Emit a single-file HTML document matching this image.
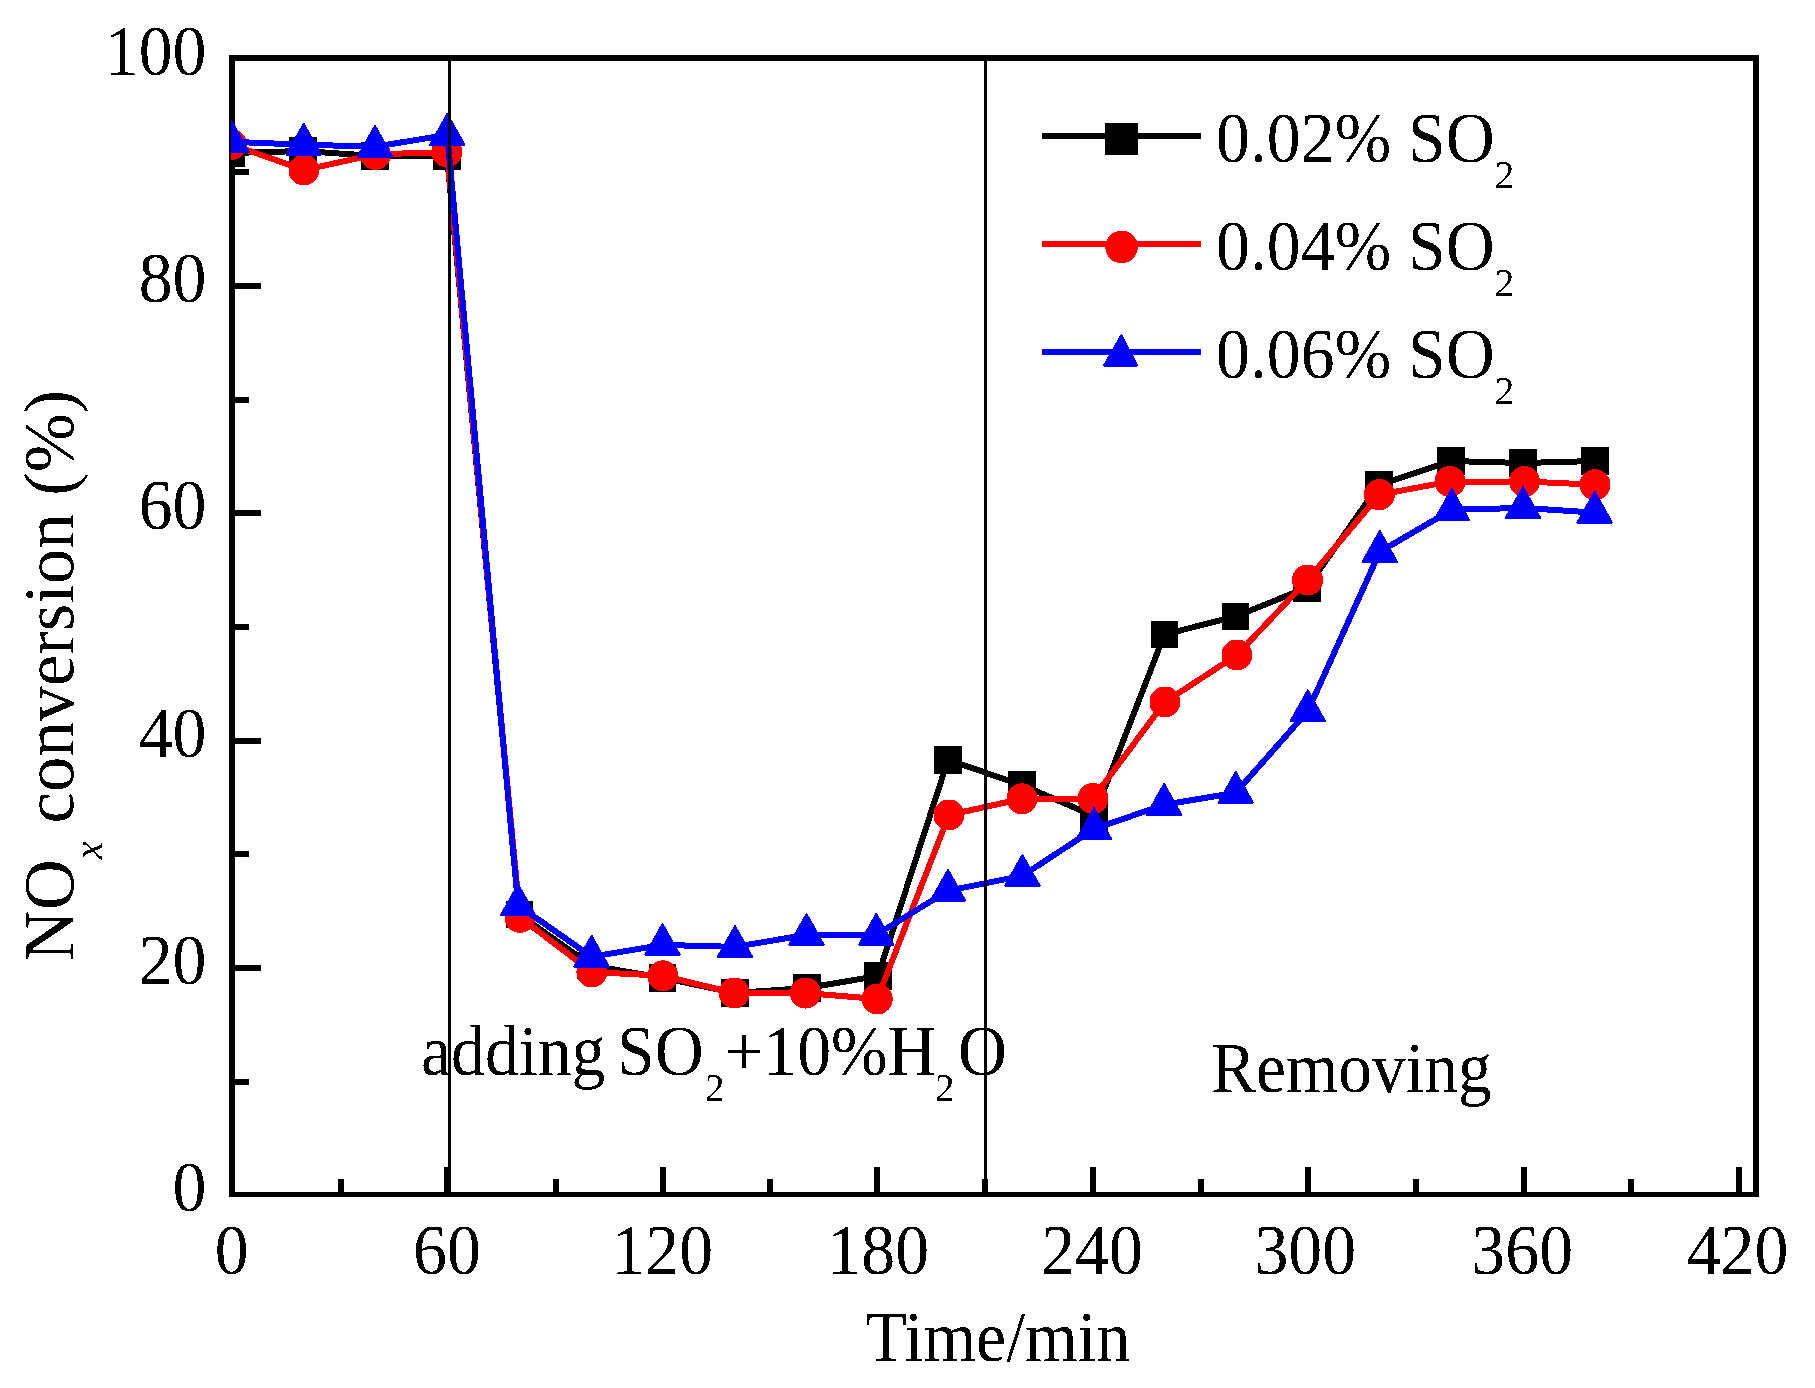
<!DOCTYPE html>
<html><head><meta charset="utf-8"><title>NOx conversion</title>
<style>html,body{margin:0;padding:0;background:#fff;overflow:hidden}svg{display:block}</style>
</head><body>
<svg width="1815" height="1388" viewBox="0 0 1815 1388" shape-rendering="crispEdges">
<defs><clipPath id="plot"><rect x="231" y="58" width="1525" height="1136"/></clipPath>
<filter id="crisp" x="0" y="0" width="1815" height="1388" filterUnits="userSpaceOnUse"><feComponentTransfer><feFuncA type="discrete" tableValues="0 1"/></feComponentTransfer></filter></defs>
<rect width="1815" height="1388" fill="#fff"/>
<g fill="#000">
<rect x="229" y="55" width="6" height="1142"/>
<rect x="229" y="55" width="1530" height="6"/>
<rect x="1753" y="55" width="6" height="1142"/>
<rect x="229" y="1192" width="1530" height="5"/>
<rect x="338.0" y="1179" width="6" height="14"/>
<rect x="444.0" y="1167" width="6" height="26"/>
<rect x="553.0" y="1179" width="6" height="14"/>
<rect x="660.0" y="1167" width="6" height="26"/>
<rect x="767.0" y="1179" width="6" height="14"/>
<rect x="874.0" y="1167" width="6" height="26"/>
<rect x="982.3" y="1179" width="6" height="14"/>
<rect x="1090.0" y="1167" width="6" height="26"/>
<rect x="1197.7" y="1179" width="6" height="14"/>
<rect x="1305.3" y="1167" width="6" height="26"/>
<rect x="1413.0" y="1179" width="6" height="14"/>
<rect x="1520.7" y="1167" width="6" height="26"/>
<rect x="1628.3" y="1179" width="6" height="14"/>
<rect x="1736.0" y="1167" width="6" height="26"/>
<rect x="234" y="1078.7" width="15" height="6"/>
<rect x="234" y="965.0" width="27" height="6"/>
<rect x="234" y="851.3" width="15" height="6"/>
<rect x="234" y="737.6" width="27" height="6"/>
<rect x="234" y="624.0" width="15" height="6"/>
<rect x="234" y="510.3" width="27" height="6"/>
<rect x="234" y="396.6" width="15" height="6"/>
<rect x="234" y="283.0" width="27" height="6"/>
<rect x="234" y="169.3" width="15" height="6"/>
</g>
<g clip-path="url(#plot)" shape-rendering="crispEdges">
<polyline points="231.5,153.0 303.0,151.0 375.0,156.0 447.0,156.0 519.5,914.5 591.0,965.5 662.5,977.8 735.0,993.0 807.0,988.0 878.0,976.0 948.0,760.0 1022.0,785.0 1094.0,816.0 1164.5,634.5 1235.5,616.4 1307.0,587.7 1379.0,485.0 1451.0,461.0 1523.0,463.0 1595.0,461.0" fill="none" stroke="#000" stroke-width="6" stroke-linejoin="round"/>
<g fill="#000"><rect x="217.8" y="139.2" width="27.5" height="27.5"/><rect x="289.2" y="137.2" width="27.5" height="27.5"/><rect x="361.2" y="142.2" width="27.5" height="27.5"/><rect x="433.2" y="142.2" width="27.5" height="27.5"/><rect x="505.8" y="900.8" width="27.5" height="27.5"/><rect x="577.2" y="951.8" width="27.5" height="27.5"/><rect x="648.8" y="964.0" width="27.5" height="27.5"/><rect x="721.2" y="979.2" width="27.5" height="27.5"/><rect x="793.2" y="974.2" width="27.5" height="27.5"/><rect x="864.2" y="962.2" width="27.5" height="27.5"/><rect x="934.2" y="746.2" width="27.5" height="27.5"/><rect x="1008.2" y="771.2" width="27.5" height="27.5"/><rect x="1080.2" y="802.2" width="27.5" height="27.5"/><rect x="1150.8" y="620.8" width="27.5" height="27.5"/><rect x="1221.8" y="602.6" width="27.5" height="27.5"/><rect x="1293.2" y="574.0" width="27.5" height="27.5"/><rect x="1365.2" y="471.2" width="27.5" height="27.5"/><rect x="1437.2" y="447.2" width="27.5" height="27.5"/><rect x="1509.2" y="449.2" width="27.5" height="27.5"/><rect x="1581.2" y="447.2" width="27.5" height="27.5"/></g>
<polyline points="231.5,144.5 304.0,170.0 375.4,154.4 447.0,152.0 520.0,917.4 591.9,972.0 662.9,975.8 734.2,993.0 805.5,993.0 877.2,999.0 949.0,815.0 1022.0,798.8 1093.0,798.5 1165.0,702.0 1237.0,655.0 1307.5,580.0 1379.4,494.7 1450.0,481.5 1524.5,481.5 1595.0,484.7" fill="none" stroke="#f00" stroke-width="6" stroke-linejoin="round"/>
<g fill="#f00"><circle cx="231.5" cy="144.5" r="15.5"/><circle cx="304.0" cy="170.0" r="15.5"/><circle cx="375.4" cy="154.4" r="15.5"/><circle cx="447.0" cy="152.0" r="15.5"/><circle cx="520.0" cy="917.4" r="15.5"/><circle cx="591.9" cy="972.0" r="15.5"/><circle cx="662.9" cy="975.8" r="15.5"/><circle cx="734.2" cy="993.0" r="15.5"/><circle cx="805.5" cy="993.0" r="15.5"/><circle cx="877.2" cy="999.0" r="15.5"/><circle cx="949.0" cy="815.0" r="15.5"/><circle cx="1022.0" cy="798.8" r="15.5"/><circle cx="1093.0" cy="798.5" r="15.5"/><circle cx="1165.0" cy="702.0" r="15.5"/><circle cx="1237.0" cy="655.0" r="15.5"/><circle cx="1307.5" cy="580.0" r="15.5"/><circle cx="1379.4" cy="494.7" r="15.5"/><circle cx="1450.0" cy="481.5" r="15.5"/><circle cx="1524.5" cy="481.5" r="15.5"/><circle cx="1595.0" cy="484.7" r="15.5"/></g>
<polyline points="231.5,141.8 303.7,144.7 375.0,146.7 447.3,134.9 518.1,905.3 591.6,956.7 662.5,944.9 735.0,946.9 806.5,934.8 876.3,934.8 948.0,890.7 1022.4,875.8 1094.0,828.9 1164.1,804.8 1235.7,792.8 1307.8,711.2 1379.8,551.8 1451.8,509.8 1523.0,507.9 1594.7,512.6" fill="none" stroke="#00f" stroke-width="6" stroke-linejoin="round"/>
<g fill="#00f" stroke="#00f" stroke-width="2" stroke-linejoin="round"><polygon points="231.5,121.0 214.3,151.7 248.7,151.7"/><polygon points="303.7,123.9 286.5,154.6 320.9,154.6"/><polygon points="375.0,125.9 357.8,156.6 392.2,156.6"/><polygon points="447.3,114.1 430.1,144.8 464.5,144.8"/><polygon points="518.1,884.5 500.9,915.2 535.3,915.2"/><polygon points="591.6,935.9 574.4,966.6 608.8,966.6"/><polygon points="662.5,924.1 645.3,954.8 679.7,954.8"/><polygon points="735.0,926.1 717.8,956.8 752.2,956.8"/><polygon points="806.5,914.0 789.3,944.7 823.7,944.7"/><polygon points="876.3,914.0 859.1,944.7 893.5,944.7"/><polygon points="948.0,869.9 930.8,900.6 965.2,900.6"/><polygon points="1022.4,855.0 1005.2,885.7 1039.6,885.7"/><polygon points="1094.0,808.1 1076.8,838.8 1111.2,838.8"/><polygon points="1164.1,784.0 1146.9,814.7 1181.3,814.7"/><polygon points="1235.7,772.0 1218.5,802.7 1252.9,802.7"/><polygon points="1307.8,690.4 1290.6,721.1 1325.0,721.1"/><polygon points="1379.8,531.0 1362.6,561.7 1397.0,561.7"/><polygon points="1451.8,489.0 1434.6,519.7 1469.0,519.7"/><polygon points="1523.0,487.1 1505.8,517.8 1540.2,517.8"/><polygon points="1594.7,491.8 1577.5,522.5 1611.9,522.5"/></g>
</g>
<rect x="448" y="58" width="3" height="1136" fill="#000"/>
<rect x="984" y="58" width="3" height="1136" fill="#000"/>
<rect x="1042" y="133" width="159" height="6" fill="#000"/>
<rect x="1105" y="123" width="33" height="32" fill="#000"/>
<rect x="1042" y="241" width="159" height="6" fill="#f00"/>
<circle cx="1121.6" cy="247" r="16.3" fill="#f00"/>
<rect x="1042" y="349" width="159" height="6" fill="#00f"/>
<polygon points="1121.4,335.1 1104,365.6 1137.2,365.6" fill="#00f" stroke="#00f" stroke-width="2" stroke-linejoin="round"/>
<g font-family="'Liberation Serif', 'Times New Roman', serif" font-size="71" fill="#000" filter="url(#crisp)">
<text transform="translate(206.5,1211.3) scale(0.955,1)" text-anchor="end">0</text>
<text transform="translate(206.5,984.0) scale(0.955,1)" text-anchor="end">20</text>
<text transform="translate(206.5,756.6) scale(0.955,1)" text-anchor="end">40</text>
<text transform="translate(206.5,529.3) scale(0.955,1)" text-anchor="end">60</text>
<text transform="translate(206.5,302.0) scale(0.955,1)" text-anchor="end">80</text>
<text transform="translate(206.5,74.6) scale(0.955,1)" text-anchor="end">100</text>
<text transform="translate(231.7,1274.0) scale(0.955,1)" text-anchor="middle">0</text>
<text transform="translate(447.0,1274.0) scale(0.955,1)" text-anchor="middle">60</text>
<text transform="translate(662.3,1274.0) scale(0.955,1)" text-anchor="middle">120</text>
<text transform="translate(878.2,1274.0) scale(0.955,1)" text-anchor="middle">180</text>
<text transform="translate(1092.0,1274.0) scale(0.955,1)" text-anchor="middle">240</text>
<text transform="translate(1305.3,1274.0) scale(0.955,1)" text-anchor="middle">300</text>
<text transform="translate(1522.2,1274.0) scale(0.955,1)" text-anchor="middle">360</text>
<text transform="translate(1737.5,1274.0) scale(0.955,1)" text-anchor="middle">420</text>
<text transform="translate(998.0,1361.4) scale(0.955,1)" text-anchor="middle">Time/min</text>
<text transform="translate(73.4,961.3) rotate(-90) scale(0.995,1)">NO<tspan font-size="41" font-style="italic" dy="28.8">x</tspan><tspan dy="-28.8"> conversion (%)</tspan></text>
<text transform="translate(1216.0,162.2) scale(0.955,1)">0.02% SO<tspan font-size="41" dy="26">2</tspan></text>
<text transform="translate(1216.0,269.6) scale(0.955,1)">0.04% SO<tspan font-size="41" dy="26">2</tspan></text>
<text transform="translate(1216.0,377.9) scale(0.955,1)">0.06% SO<tspan font-size="41" dy="26">2</tspan></text>
<text transform="translate(421.0,1074.6) scale(0.955,1)">adding</text>
<text transform="translate(617.0,1074.6) scale(0.955,1)">SO</text>
<text transform="translate(705.0,1100.6) scale(0.955,1)"><tspan font-size="41">2</tspan></text>
<text transform="translate(725.0,1074.6) scale(0.955,1)">+10%H</text>
<text transform="translate(935.0,1100.6) scale(0.955,1)"><tspan font-size="41">2</tspan></text>
<text transform="translate(958.0,1074.6) scale(0.955,1)">O</text>
<text transform="translate(1211.1,1091.6) scale(0.949,1)">Removing</text>
</g>
</svg>
</body></html>
